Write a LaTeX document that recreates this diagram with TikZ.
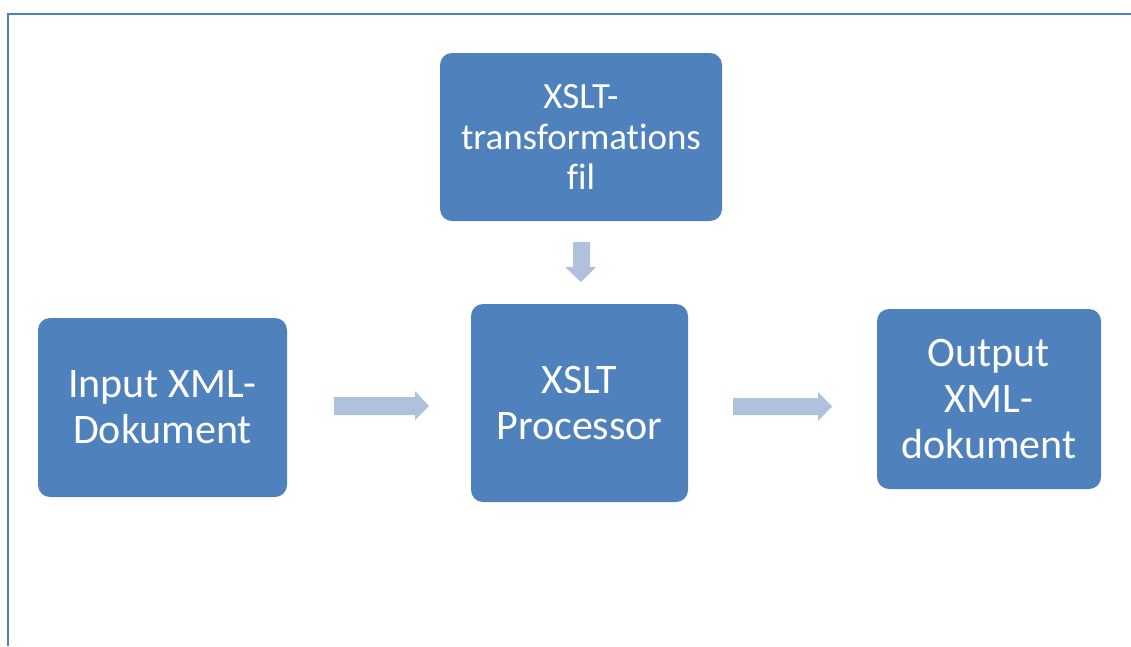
\documentclass[tikz,border=0pt]{standalone}
\usepackage{fontspec}
\setmainfont[Ligatures={NoCommon},RawFeature={-liga;-clig}]{Carlito}
\definecolor{boxblue}{HTML}{4F81BD}
\definecolor{arrowblue}{HTML}{B0C1DE}
\begin{document}
\begin{tikzpicture}[x=1pt,y=-1pt,
  blockbox/.style={fill=boxblue, rounded corners=12pt, inner sep=0pt, text=white, align=center,
    font=\fontsize{42}{46}\selectfont},
  blockarrow/.style={fill=arrowblue}]
\useasboundingbox (0,0) rectangle (1131,646);
% frame
\draw[boxblue, line width=2.5pt] (8,646) -- (8,14) -- (1131,14);
% boxes
\node[blockbox, minimum width=282pt, minimum height=168pt, font=\fontsize{37}{40.5}\selectfont] (xsl) at (581,137) {XSLT-\\transformat\kern0pt ions\\f\kern0pt il};
\node[blockbox, minimum width=217pt, minimum height=198pt] (proc) at (579.5,403) {XSLT\\Processor};
\node[blockbox, minimum width=249pt, minimum height=179pt] (in) at (162.5,407.5) {Input XML-\\Dokument};
\node[blockbox, minimum width=224pt, minimum height=180pt] (out) at (989,399) {Output\\XML-\\dokument};
% block arrows
\fill[blockarrow] (334,397) -- (415,397) -- (415,391) -- (429,406) -- (415,420) -- (415,415) -- (334,415) -- cycle;
\fill[blockarrow] (733,398) -- (818,398) -- (818,392) -- (832,406.5) -- (818,421) -- (818,415) -- (733,415) -- cycle;
\fill[blockarrow] (573,242) -- (590,242) -- (590,267) -- (596,267) -- (581,282) -- (565,267) -- (573,267) -- cycle;
\end{tikzpicture}
\end{document}
